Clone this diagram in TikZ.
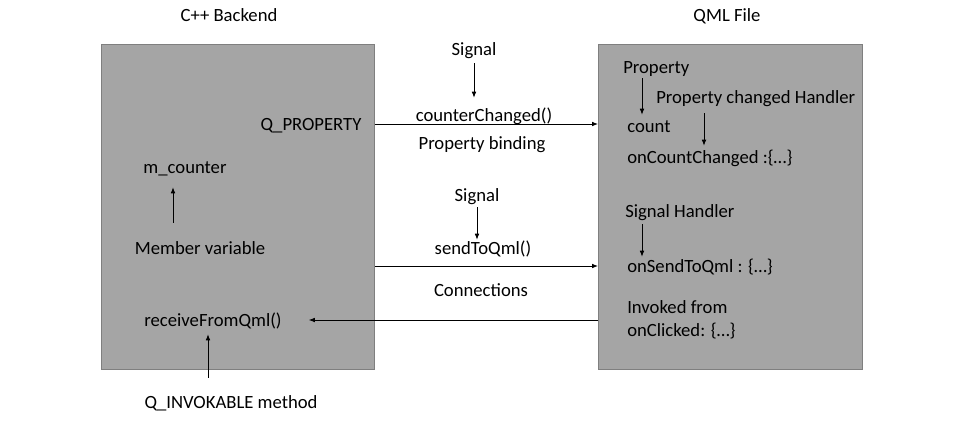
\documentclass[tikz,border=0pt]{standalone}
\usepackage{fontspec}
\setmainfont{Carlito}
\usetikzlibrary{arrows.meta}
\definecolor{panelfill}{HTML}{A5A5A5}
\definecolor{panelline}{HTML}{7F7F7F}

\begin{document}
\begin{tikzpicture}[x=0.75pt,y=-0.75pt]
    \tikzset{panel/.style = {draw=panelline, fill=panelfill, line width=0.75pt, inner sep=0pt, anchor=north west}}
    \tikzset{txt/.style = {inner sep=0pt, text height=9pt, text depth=0pt, anchor=base, font=\fontsize{14}{17}\selectfont}}
    \tikzset{ltxt/.style = {txt, anchor=base west}}
    \tikzset{conn/.style = {draw=black, line width=0.6pt, -{Latex[length=4.5pt,width=3.5pt]}}}

    \useasboundingbox (0,0) rectangle (965,422);

    % boxes
    \node[panel, minimum width=204.75pt, minimum height=243.75pt] (cpp) at (101,44) {};
    \node[panel, minimum width=198pt, minimum height=243.75pt] (qml) at (598,44) {};

    % titles
    \node[txt] (cpptitle) at (229,21) {C++ Backend};
    \node[txt] (qmltitle) at (727,21) {QML File};

    % backend side
    \node[txt] (qprop) at (311,130) {Q\_PROPERTY};
    \node[txt] (mcnt) at (185,173) {m\_counter};
    \node[txt] (memb) at (200,254) {Member variable};
    \node[txt] (recv) at (213,326) {receiveFromQml()};
    \node[txt] (inv) at (231,408) {Q\_INVOKABLE method};

    % middle
    \node[txt] (sig1) at (474,55) {Signal};
    \node[txt] (cc) at (484,121) {counterChanged()};
    \node[txt] (pbind) at (482,149) {Property binding};
    \node[txt] (sig2) at (477,201) {Signal};
    \node[txt] (send) at (483,254) {sendToQml()};
    \node[txt] (cnx) at (481,296) {Connections};

    % qml side
    \node[ltxt] (prop) at (623,73) {Property};
    \node[ltxt] (pch) at (656,103) {Property changed Handler};
    \node[ltxt] (count) at (627,132) {count};
    \node[ltxt] (oncc) at (627,163) {onCountChanged :\{…\}};
    \node[ltxt] (sigh) at (625,217) {Signal Handler};
    \node[ltxt] (onsend) at (627,272) {onSendToQml : \{…\}};
    \node[ltxt] (invf) at (627,313) {Invoked from};
    \node[ltxt] (onclk) at (627,336) {onClicked: \{…\}};

    % edges
    \draw[conn] (qprop -| cpp.east) -- (qprop -| qml.west);
    \draw[conn] (onsend -| cpp.east) -- (onsend -| qml.west);
    \draw[conn, shorten >=20.25pt] (recv -| qml.west) -- (recv.east);
    \draw[conn, shorten <=6pt, shorten >=8.25pt] (sig1.south) -- (sig1.south |- cc.north);
    \draw[conn, shorten <=4.5pt, shorten >=1.5pt] (sig2.south) -- (sig2.south |- send.north);
    \draw[conn, shorten <=14.25pt, shorten >=10.5pt] ([xshift=-9pt]mcnt.south |- memb.north) -- ([xshift=-9pt]mcnt.south);
    \draw[conn, shorten <=13.5pt, shorten >=6pt] ([xshift=-3.75pt]recv.south |- inv.north) -- ([xshift=-3.75pt]recv.south);
    \draw[conn, shorten <=3.75pt, shorten >=3.75pt] ([xshift=14.25pt]prop.south west) -- ([xshift=14.25pt]prop.south west |- count.north);
    \draw[conn, shorten <=7.5pt, shorten >=3.75pt] ([xshift=36pt]pch.south west) -- ([xshift=36pt]pch.south west |- oncc.north);
    \draw[conn, shorten <=5.25pt, shorten >=2.25pt] ([xshift=12.75pt]sigh.south west) -- ([xshift=12.75pt]sigh.south west |- onsend.north);
\end{tikzpicture}
\end{document}
